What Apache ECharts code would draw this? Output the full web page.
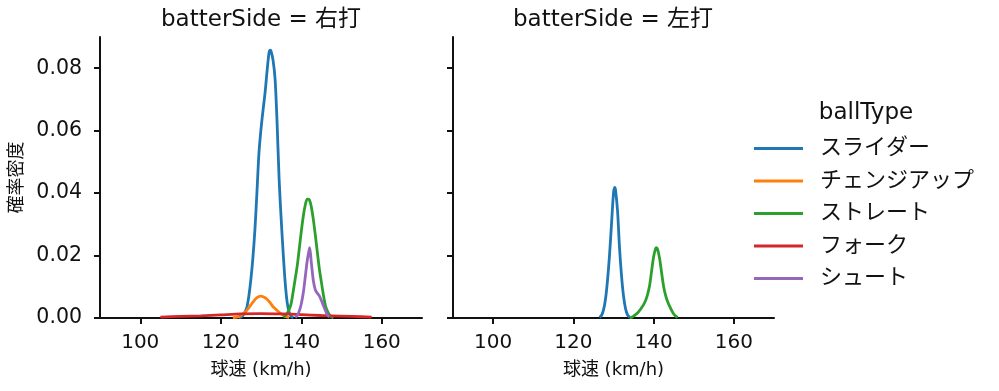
<!DOCTYPE html>
<html>
<head>
<meta charset="utf-8">
<script src="https://cdn.jsdelivr.net/npm/echarts@6/dist/echarts.min.js"></script>
<style>
html,body{margin:0;padding:0;background:#fff;}
#main{width:999px;height:391px;}
</style>
</head>
<body>
<div id="main"></div>
<script>
// ---- data ----
const categories = ['スライダー', 'チェンジアップ', 'ストレート', 'フォーク', 'シュート'];
const panels = ['右打', '左打'];
const colors = ['#1f77b4', '#ff7f0e', '#2ca02c', '#d62728', '#9467bd'];
const xTicks = [100, 120, 140, 160];
const yTicks = [0, 0.02, 0.04, 0.06, 0.08];

// 右打
const rSliderX = [124.5,125,125.5,126,126.5,127,127.5,128,128.5,129,129.5,130,130.5,131,131.5,132,132.3,132.5,133,133.5,134,134.5,135,135.5,136,136.5,137,137.5,138];
const rSliderY = [0.0001,0.0003,0.0008,0.0018,0.0035,0.0072,0.0125,0.0195,0.0285,0.0405,0.0530,0.0605,0.0665,0.0720,0.0790,0.0850,0.0858,0.0855,0.0825,0.0765,0.0624,0.0445,0.0320,0.0210,0.0115,0.0050,0.0018,0.0006,0.0001];
const rChangeX = [123,123.5,124,124.5,125,125.5,126,126.5,127,127.5,128,128.5,129,129.5,130,130.5,131,131.5,132,132.5,133,133.5,134,134.5,135,135.5,136,136.5,137];
const rChangeY = [0.0001,0.0002,0.0003,0.0005,0.0008,0.0013,0.0018,0.0025,0.0033,0.0042,0.0051,0.0059,0.0065,0.0069,0.0070,0.0068,0.0065,0.0060,0.0053,0.0045,0.0036,0.0030,0.0024,0.0018,0.0013,0.0009,0.0006,0.0003,0.0001];
const rStraightX = [135.5,136,136.5,137,137.5,138,138.5,139,139.5,140,140.5,141,141.5,142,142.5,143,143.5,144,144.5,145,145.5,146,146.5,147,147.5,148];
const rStraightY = [0.0003,0.0007,0.0015,0.0027,0.0047,0.0085,0.0126,0.0167,0.0221,0.0276,0.0325,0.0362,0.0381,0.0379,0.0356,0.0316,0.0265,0.0210,0.0157,0.0115,0.0074,0.0040,0.0022,0.0010,0.0004,0.0001];
const rForkX = [105,110,115,120,125,130,135,140,145,150,155,157.5];
const rForkY = [0.0003,0.0005,0.0007,0.0010,0.0013,0.0014,0.0013,0.0011,0.0008,0.0006,0.0004,0.0003];
const rShootX = [138.5,139,139.5,140,140.5,141,141.5,142,142.1,142.5,143,143.5,144,144.5,145,145.5,146,146.5,147];
const rShootY = [0.0002,0.0008,0.0022,0.0045,0.0080,0.0132,0.0185,0.0220,0.0225,0.0178,0.0120,0.0090,0.0079,0.0071,0.0056,0.0040,0.0024,0.0010,0.0003];

// 左打
const lSliderX = [126.5,127,127.5,128,128.5,129,129.5,130,130.3,130.5,131,131.5,132,132.5,133,133.5,134];
const lSliderY = [0.0002,0.0008,0.0025,0.0060,0.0120,0.0200,0.0300,0.0400,0.0418,0.0410,0.0345,0.0225,0.0135,0.0070,0.0030,0.0010,0.0003];
const lStraightX = [134,134.5,135,135.5,136,136.5,137,137.5,138,138.5,139,139.5,140,140.5,140.7,141,141.5,142,142.5,143,143.5,144,144.5,145,145.5,146];
const lStraightY = [0.0001,0.0002,0.0006,0.0011,0.0016,0.0024,0.0033,0.0043,0.0056,0.0076,0.0104,0.0151,0.0196,0.0223,0.0225,0.0220,0.0190,0.0144,0.0100,0.0072,0.0052,0.0037,0.0024,0.0013,0.0006,0.0002];

// ---- build ----
const FONT = '"DejaVu Sans", "Noto Sans CJK JP", sans-serif';
const TEXT = '#111';
const zip = (xs, ys) => xs.map((x, i) => [x, ys[i]]);
const panelData = [
  { 'スライダー': zip(rSliderX, rSliderY), 'チェンジアップ': zip(rChangeX, rChangeY),
    'ストレート': zip(rStraightX, rStraightY), 'フォーク': zip(rForkX, rForkY), 'シュート': zip(rShootX, rShootY) },
  { 'スライダー': zip(lSliderX, lSliderY), 'ストレート': zip(lStraightX, lStraightY) }
];

const grids = [
  { left: 100, top: 37, width: 322, height: 281 },
  { left: 453, top: 37, width: 321, height: 281 }
];

function xAxis(i) {
  return {
    type: 'value', gridIndex: i, min: 90, max: 170,
    name: '球速 (km/h)', nameLocation: 'middle', nameGap: 43,
    nameTextStyle: { fontFamily: FONT, fontSize: 18, color: TEXT },
    axisLine: { lineStyle: { color: TEXT, width: 2 } },
    axisTick: { customValues: xTicks, length: 6, lineStyle: { color: TEXT, width: 2 } },
    axisLabel: { customValues: xTicks, margin: 15, fontFamily: FONT, fontSize: 20, color: TEXT },
    splitLine: { show: false }
  };
}
function yAxis(i) {
  return {
    type: 'value', gridIndex: i, min: 0, max: 0.09,
    name: i === 0 ? '確率密度' : '', nameLocation: 'middle', nameGap: 74,
    nameTextStyle: { fontFamily: FONT, fontSize: 18, color: TEXT },
    axisLine: { show: true, lineStyle: { color: TEXT, width: 2 } },
    axisTick: { show: true, customValues: yTicks, length: 6, lineStyle: { color: TEXT, width: 2 } },
    axisLabel: { show: i === 0, customValues: yTicks, margin: 18, fontFamily: FONT, fontSize: 20.5, color: TEXT,
      formatter: v => v.toFixed(2) },
    splitLine: { show: false }
  };
}

const series = [];
panelData.forEach((pd, pi) => {
  categories.forEach((c, ci) => {
    if (!pd[c]) return;
    series.push({
      type: 'line', name: c, xAxisIndex: pi, yAxisIndex: pi,
      data: pd[c], showSymbol: false, smooth: 0.3,
      lineStyle: { color: colors[ci], width: 2.8 },
      itemStyle: { color: colors[ci] },
      emphasis: { disabled: true }, animation: false
    });
  });
});

const chart = echarts.init(document.getElementById('main'), null, { renderer: 'canvas' });
chart.setOption({
  animation: false,
  backgroundColor: '#fff',
  title: [
    { text: 'batterSide = ' + panels[0], left: 261, top: 9, textAlign: 'center', padding: 0,
      textStyle: { fontFamily: FONT, fontSize: 23, fontWeight: 'normal', color: TEXT } },
    { text: 'batterSide = ' + panels[1], left: 613, top: 9, textAlign: 'center', padding: 0,
      textStyle: { fontFamily: FONT, fontSize: 23, fontWeight: 'normal', color: TEXT } },
    { text: 'ballType', left: 866, top: 102, textAlign: 'center', padding: 0,
      textStyle: { fontFamily: FONT, fontSize: 23, fontWeight: 'normal', color: TEXT } }
  ],
  legend: {
    data: categories, orient: 'vertical', left: 754, top: 137, padding: 0,
    icon: 'rect', itemWidth: 49, itemHeight: 3, itemGap: 9.5,
    textStyle: { fontFamily: FONT, fontSize: 22, color: TEXT, lineHeight: 23, padding: [0, 0, 0, 12] },
    selectedMode: false
  },
  grid: grids,
  xAxis: [xAxis(0), xAxis(1)],
  yAxis: [yAxis(0), yAxis(1)],
  series: series
});
</script>
</body>
</html>
